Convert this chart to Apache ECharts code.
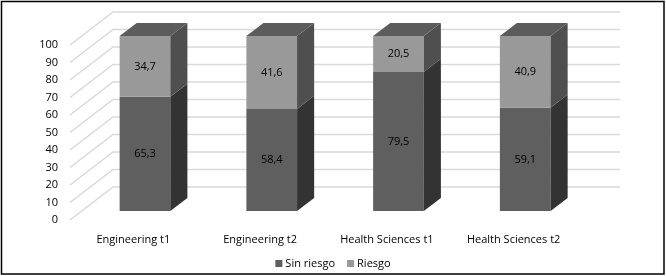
<!DOCTYPE html>
<html>
<head>
<meta charset="utf-8">
<script src="https://cdn.jsdelivr.net/npm/echarts@6/dist/echarts.min.js"></script>
<style>
  html, body { margin: 0; padding: 0; background: #fff; }
  #chart { width: 666px; height: 276px; }
</style>
</head>
<body>
<div id="chart"></div>
<script>
// data
var categories = ["Engineering t1", "Engineering t2", "Health Sciences t1", "Health Sciences t2"];
var sinRiesgo = [65.3, 58.4, 79.5, 59.1];
var riesgo = [34.7, 41.6, 20.5, 40.9];
var yTicks = [0, 10, 20, 30, 40, 50, 60, 70, 80, 90, 100];

// 3d look: offset from front plane to back wall
var DX = 43, DY = -33;
var BAR_FRONT = 0.27, BAR_BACK = 0.667; // depth fractions of the bar
var BAR_W = 0.4; // share of category width

var chart = echarts.init(document.getElementById("chart"));

// walls with gridlines
function renderWalls(params, api) {
  var cs = params.coordSys;
  var p = api.coord([0, api.value(0)]);
  var y = p[1];
  var x0 = cs.x;
  return {
    type: "polyline",
    shape: {
      points: [[x0, y], [x0 + DX, y + DY], [x0 + cs.width + DX, y + DY]]
    },
    style: { stroke: "#d9d9d9", lineWidth: 1.5, fill: null },
    silent: true
  };
}

function makeBarRender(colors, isTop) {
  return function (params, api) {
    var idx = api.value(0);
    var base = api.value(1);
    var top = api.value(2);
    var pb = api.coord([idx, base]);
    var pt = api.coord([idx, top]);
    var w = api.size([1, 0])[0] * BAR_W;
    var fx = BAR_FRONT * DX, fy = BAR_FRONT * DY;
    var dx = (BAR_BACK - BAR_FRONT) * DX, dy = (BAR_BACK - BAR_FRONT) * DY;
    var l = pb[0] - w / 2 + fx, r = pb[0] + w / 2 + fx;
    var yb = pb[1] + fy, yt = pt[1] + fy;
    var children = [
      { type: "polygon", shape: { points: [[l, yb], [r, yb], [r, yt], [l, yt]] },
        style: { fill: colors.front } },
      { type: "polygon", shape: { points: [[r, yb], [r + dx, yb + dy], [r + dx, yt + dy], [r, yt]] },
        style: { fill: colors.side } }
    ];
    if (isTop) {
      children.push({ type: "polygon",
        shape: { points: [[l, yt], [r, yt], [r + dx, yt + dy], [l + dx, yt + dy]] },
        style: { fill: colors.top } });
    }
    children.push({
      type: "text",
      style: {
        text: (top - base).toFixed(1).replace(".", ","),
        x: (l + r) / 2, y: (yb + yt) / 2,
        align: "center", verticalAlign: "middle",
        font: "11px 'Open Sans'", fill: "#000"
      }
    });
    return { type: "group", children: children };
  };
}

var sinData = categories.map(function (c, i) { return [i, 0, sinRiesgo[i]]; });
var riesgoData = categories.map(function (c, i) { return [i, sinRiesgo[i], sinRiesgo[i] + riesgo[i]]; });

var option = {
  animation: false,
  textStyle: { fontFamily: "'Open Sans', sans-serif" },
  grid: { left: 70, right: 89, top: 45, bottom: 56 },
  xAxis: {
    type: "category",
    data: categories,
    axisLine: { show: false },
    axisTick: { show: false },
    axisLabel: { color: "#000", fontSize: 11, margin: 14 }
  },
  yAxis: {
    type: "value",
    min: 0, max: 100, interval: 10,
    splitLine: { show: false },
    axisLine: { show: false },
    axisTick: { show: false },
    axisLabel: { color: "#000", fontSize: 11, margin: 12 }
  },
  legend: {
    bottom: 2,
    left: "center",
    icon: "rect",
    itemWidth: 7, itemHeight: 7, itemGap: 12,
    textStyle: { color: "#000", fontSize: 11, padding: [0, 0, 0, -2] },
    data: ["Sin riesgo", "Riesgo"]
  },
  graphic: [{
    type: "rect", shape: { x: 1.5, y: 1.5, width: 662.5, height: 272.5 },
    style: { fill: null, stroke: "#000", lineWidth: 1.5 }, z: 100, silent: true
  }],
  series: [
    {
      type: "custom", name: "walls", data: yTicks.map(function (v) { return [v]; }),
      renderItem: renderWalls, silent: true, z: 1
    },
    {
      type: "custom", name: "Sin riesgo", data: sinData, z: 2,
      itemStyle: { color: "#5f5f5f" },
      renderItem: makeBarRender({ front: "#5f5f5f", side: "#333333", top: "#555555" }, false)
    },
    {
      type: "custom", name: "Riesgo", data: riesgoData, z: 3,
      itemStyle: { color: "#999999" },
      renderItem: makeBarRender({ front: "#999999", side: "#4f4f4f", top: "#5c5c5c" }, true)
    }
  ]
};

chart.setOption(option);
</script>
</body>
</html>
